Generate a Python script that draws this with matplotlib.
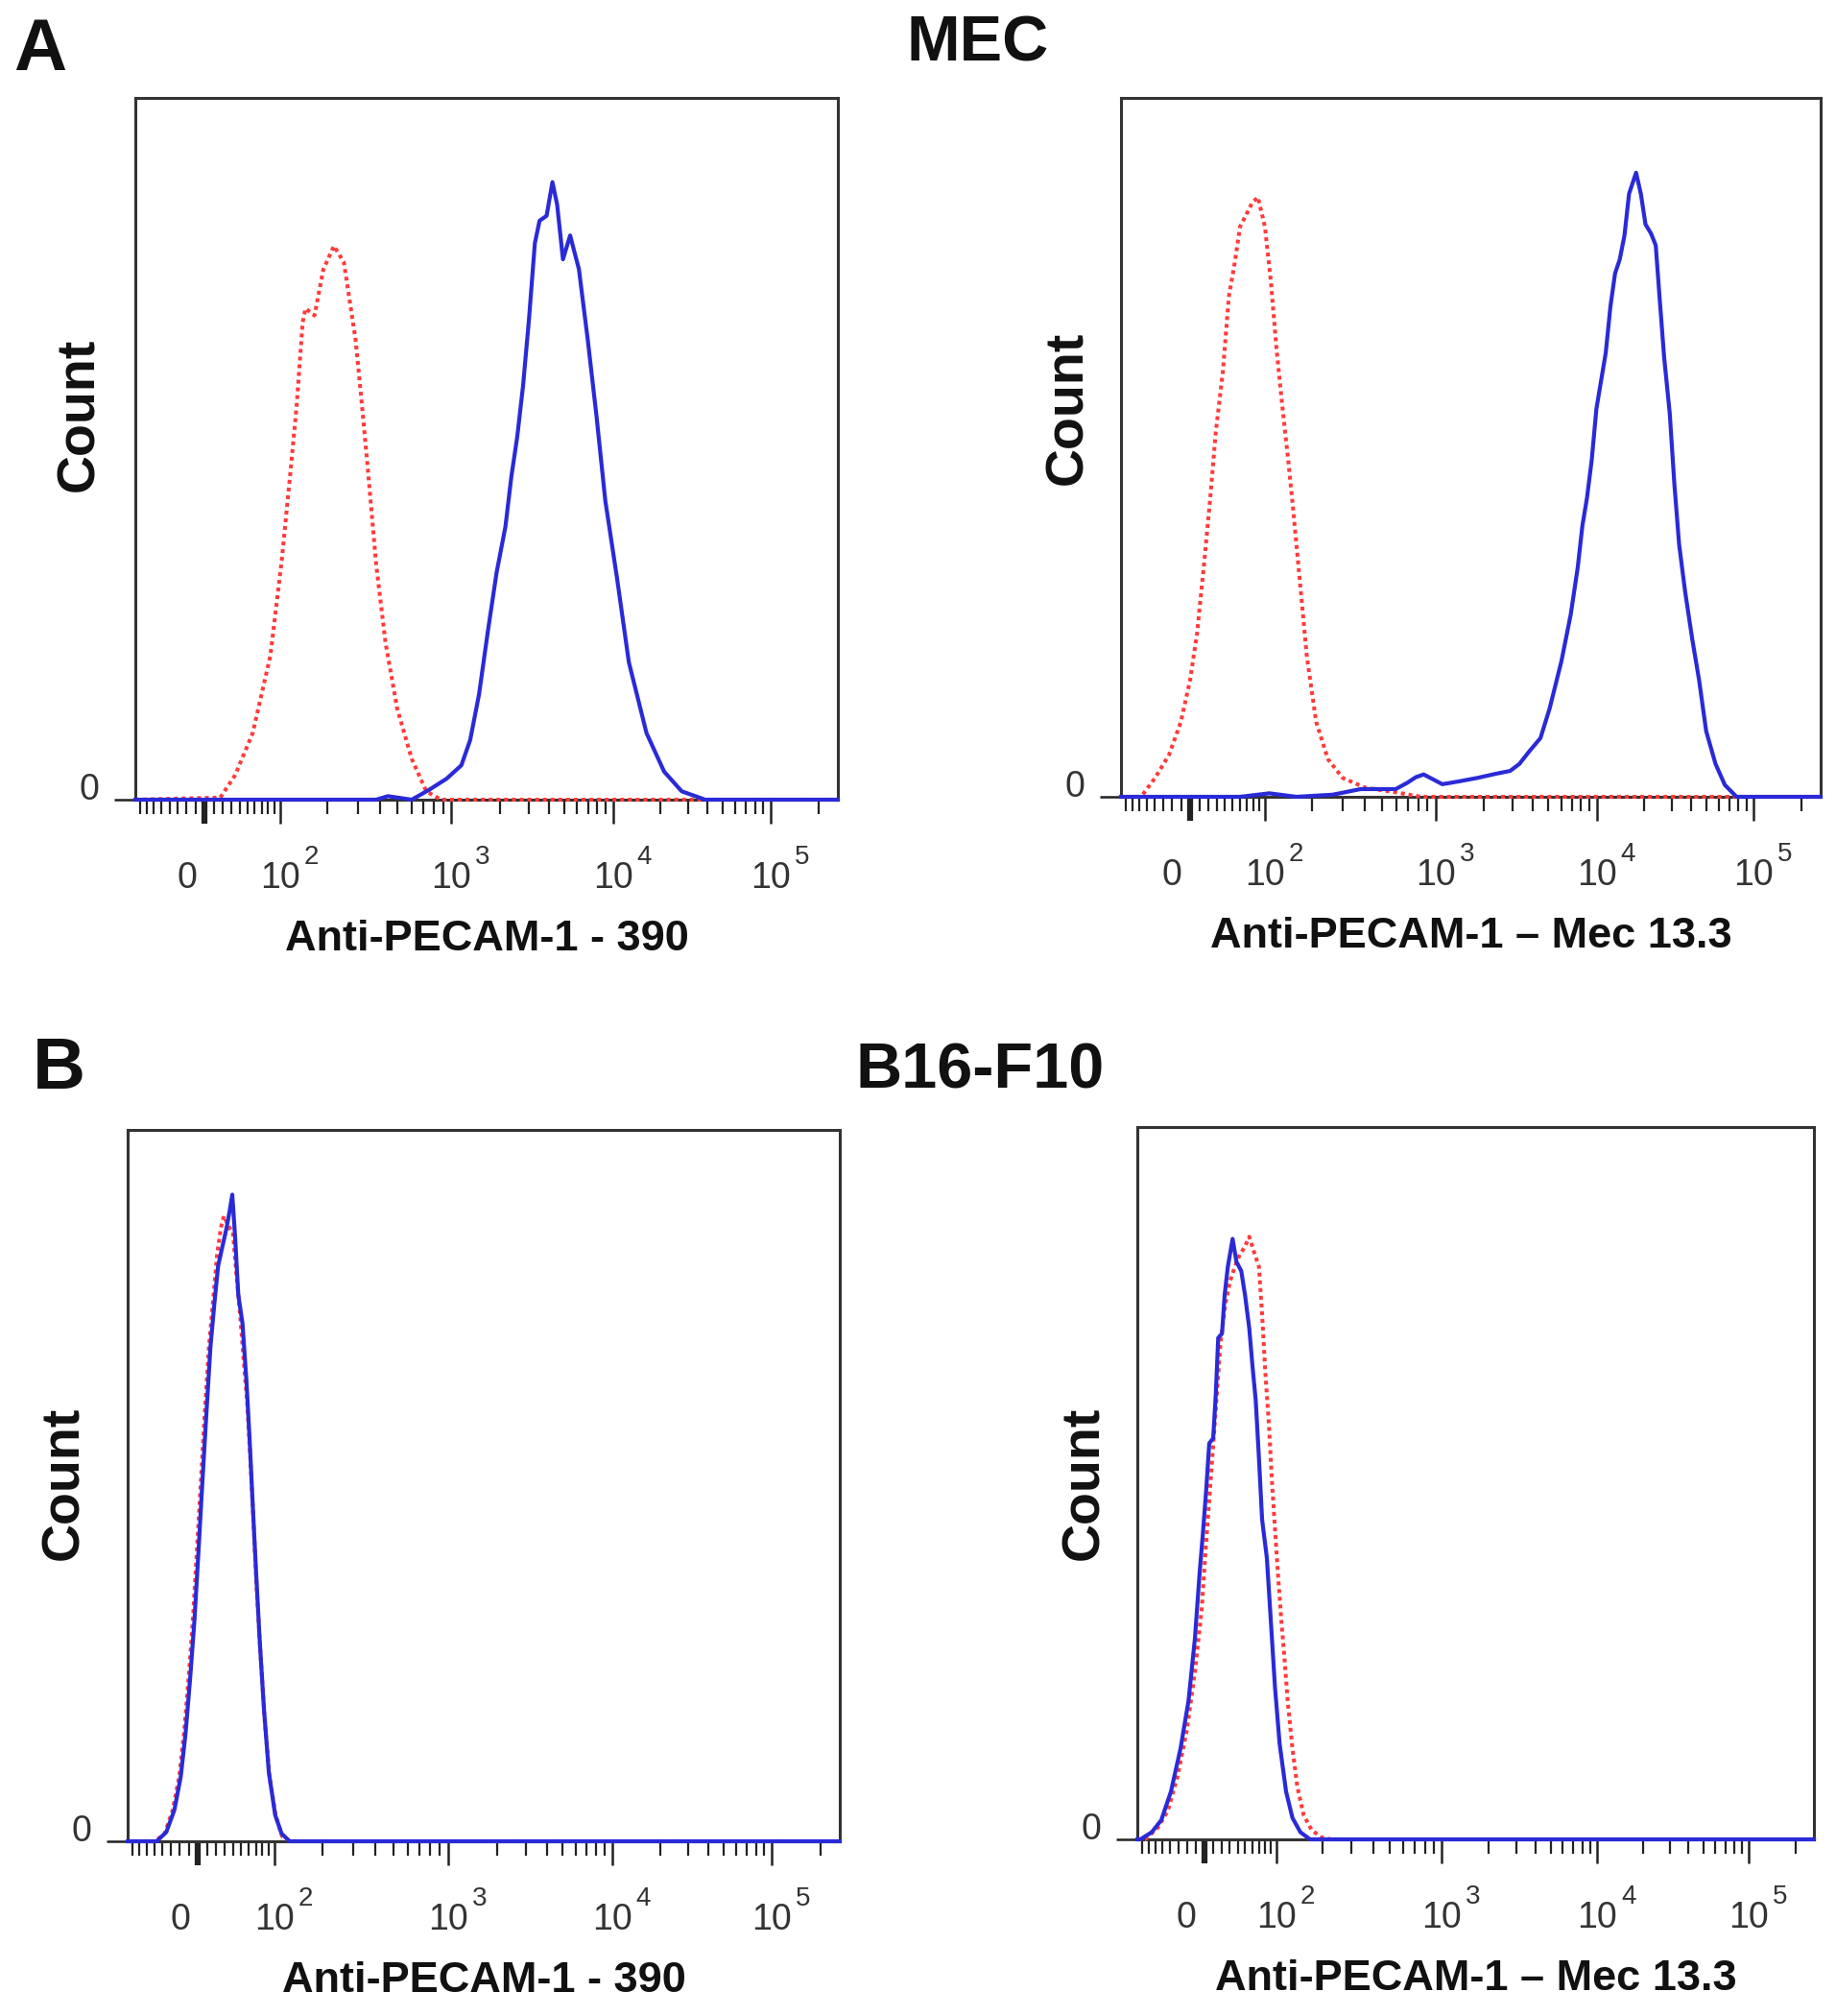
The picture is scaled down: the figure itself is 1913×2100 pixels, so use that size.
import matplotlib
matplotlib.use("Agg")
import matplotlib.pyplot as plt
import matplotlib.transforms as mtransforms
from matplotlib.ticker import FixedLocator, NullFormatter
import numpy as np

plt.rcParams['font.family'] = ['Liberation Sans', 'DejaVu Sans']

FIG_W, FIG_H = 1913, 2100

# flow cytometry display axis (biexponential-like): asinh core with decade knots
W_LIN = 77.6
KNOT_V = np.array([-88.0, 0.0, 1e2, 1e3, 1e4, 1e5, 262144.0])
KNOT_F = np.array([0.0, 0.099, 0.206, 0.450, 0.680, 0.904, 1.0])
KNOT_S = np.arcsinh(KNOT_V / W_LIN)


def fwd(x):
    return np.interp(np.arcsinh(np.asarray(x, dtype=float) / W_LIN), KNOT_S, KNOT_F)


def inv(f):
    return W_LIN * np.sinh(np.interp(np.asarray(f, dtype=float), KNOT_F, KNOT_S))


MAJOR = [0, 1e2, 1e3, 1e4, 1e5]
MAJOR_LABELS = ['0', '10', '10', '10', '10']
EXPONENTS = ['2', '3', '4', '5']
MINOR = ([-80, -70, -60, -50, -40, -30, -20, -10]
         + [10, 20, 30, 40, 50, 60, 70, 80, 90]
         + [200, 300, 400, 500, 600, 700, 800, 900]
         + [2000, 3000, 4000, 5000, 6000, 7000, 8000, 9000]
         + [20000, 30000, 40000, 50000, 60000, 70000, 80000, 90000]
         + [200000])
X_MIN, X_MAX = -88, 262144

# ---- MEC, anti-PECAM-1 390 ----
tl_red_x = [-88, 17.2, 34.5, 57.1, 83.4, 103, 118, 129, 141, 147, 167, 189, 218, 249, 291,
            314, 339, 381, 430, 499, 602, 725, 874, 262144]
tl_red_y = [0, 0.3, 3.5, 9.5, 20.5, 34.3, 47, 56, 68, 70, 69, 75.6, 78.9, 76.6, 65.5,
            57, 48, 33.4, 22.3, 13, 5.8, 1.2, 0, 0]
tl_blue_x = [-88, 380, 443, 602, 751, 941, 1152, 1306, 1482, 1681, 1905, 2159, 2348, 2554,
             2776, 3016, 3284, 3511, 3881, 4218, 4510, 4900, 5427, 6150, 6978, 7915, 8957,
             10610, 12600, 16310, 21110, 27290, 38500, 262144]
tl_blue_y = [0, 0, 0.5, 0, 1.4, 3, 4.9, 8.5, 15, 24, 32.4, 38.9, 46, 51.7,
             59, 68.3, 79.3, 82.5, 83.2, 88, 84.8, 77, 80.4, 75.6, 65.5, 54.5, 42.6,
             31.5, 19.6, 9.5, 4, 1.2, 0, 0]

# ---- MEC, anti-PECAM-1 Mec 13.3 ----
tr_red_x = [-88, -58.0, -39.9, -23.5, -10.3, -0.2, 7.6, 15.5, 22.5, 29.0, 37.6, 45.1, 52.6,
            60.2, 69.1, 78.2, 87.4, 99.6, 109.7, 119.4, 130, 142.2, 152.2, 168.1, 185.3,
            210.5, 246.4, 300, 403, 579, 830, 262144]
tr_red_y = [0, 0, 2.7, 6, 10.7, 16.7, 23.4, 33.4, 42.8, 52.2, 60.9, 71.6, 76.3,
            81.6, 83.3, 85, 85.8, 81.6, 73.6, 64.2, 56.2, 48.2, 41.5, 30.8, 20,
            10.7, 5.4, 2.7, 1.3, 0.7, 0, 0]
tr_blue_x = [-88, 60, 107, 160, 262, 316, 379, 484, 597, 693, 773, 855, 965, 1098, 1387,
             1812, 2369, 2895, 3306, 3778, 4470, 5106, 6033, 6894, 7617, 8145, 8700, 9306,
             9950, 10650, 11410, 12230, 13090, 14020, 15020, 16080, 17820, 19110, 20470,
             22200, 23790, 25140, 26910, 29240, 31270, 33540, 36610, 40580, 44980, 49900,
             57270, 65650, 77960, 262144]
tr_blue_y = [0, 0, 0.5, 0, 0.3, 0.7, 1.1, 1.1, 1.1, 2, 2.8, 3.2, 2.5, 1.8, 2.2,
             2.7, 3.3, 3.7, 4.7, 6.4, 8.4, 12.7, 19.4, 26.1, 32.8, 38.8, 42.8, 48.2,
             55.5, 59.5, 63.5, 70.2, 74.9, 76.9, 80.3, 86.3, 89.3, 86.3, 81.9,
             80.6, 78.9, 71.6, 62.9, 54.8, 44.8, 36.1, 29.4, 22.7, 16.7, 9.4,
             4.7, 1.7, 0, 0]

# ---- B16-F10, anti-PECAM-1 390 ----
bl_red_x = [-88, -48.8, -37.0, -27.8, -20.5, -15.3, -10.1, -5.6, -1.5, 2.7, 7.2, 11.8, 16.1,
            20.7, 25.1, 28.7, 32.6, 35.5, 39.5, 43.4, 48.3, 53.3, 57.6, 62.1, 66.5, 71.2,
            77.0, 83.6, 91.6, 102.2, 112.9, 127.2, 262144]
bl_red_y = [0, 0, 1.1, 4.4, 9.1, 15.1, 23.2, 31.2, 40.6, 50, 60.1, 69.5, 75.5,
            82.2, 86.2, 87.9, 86.9, 86.2, 85.6, 80.2, 74.2, 67.4, 62, 54, 45.3, 35.9,
            26.5, 17.1, 9.1, 3.6, 0.7, 0, 0]
bl_blue_x = [-88, -46.8, -35.2, -25.9, -18.8, -13.6, -8.4, -3.9, 0.3, 4.4, 9.0, 13.5, 17.8,
             22.1, 27.0, 31.8, 35.5, 38.7, 42.2, 46.2, 51.6, 56.8, 61.1, 65.6, 70.4, 76.1,
             82.6, 90.5, 101.3, 111.8, 126.1, 262144]
bl_blue_y = [0, 0, 1.3, 4.4, 9.1, 15.1, 23.2, 31.2, 40.6, 50, 60.1, 69.5, 75.5,
             80.9, 83.6, 86.2, 88.6, 90.9, 84.9, 76.8, 72.8, 64.8, 56.7, 47.3, 37.9, 27.9,
             18.5, 9.7, 3.7, 1.1, 0, 0]

# ---- B16-F10, anti-PECAM-1 Mec 13.3 ----
br_red_x = [-88, -75.1, -56.0, -43.2, -31.2, -19.8, -10.6, -3.0, 2.1, 7.6, 13.2, 18.8, 24.5,
            30.4, 36.4, 42.6, 49.0, 55.6, 62.6, 69.8, 74.8, 79.9, 86.0, 90.9, 96.8, 102.4,
            107.9, 113.5, 119.5, 128.8, 138.6, 152.4, 171.5, 196.8, 225.2, 262144]
br_red_y = [0, 0, 1.7, 4, 8.7, 15.4, 23.5, 32.2, 41.6, 50.9, 60.3, 69.7, 75.1,
            78.4, 80.4, 82.1, 83.1, 84.6, 82.4, 80.4, 73.7, 65.7, 58.3, 50.9, 43.6, 36.9,
            30.8, 25.5, 19.4, 12.7, 7.4, 3.4, 1.3, 0.3, 0, 0]
br_blue_x = [-88, -82.8, -65.2, -51.7, -39.1, -27.4, -18.0, -10.6, -5.2, -1.6, 2.1, 5.7, 10.2,
             13.2, 16.1, 20.6, 23.7, 27.6, 33.5, 38.3, 44.6, 49.7, 55.6, 60.2, 64.9, 69.8,
             74.8, 82.6, 89.3, 96.8, 105, 116.5, 128.8, 145.3, 167.4, 262144]
br_blue_y = [0, 0, 1, 2.7, 6.7, 12.7, 19.4, 28.2, 37.5, 42.9, 48.9, 55.6, 56.3,
             62.3, 70.4, 71, 76.4, 80.4, 84.3, 81.1, 79.8, 76.4, 71.7, 66.4, 61.7, 53.6,
             44.9, 39.5, 30.8, 21.4, 13.4, 6.7, 3, 1, 0, 0]

XLABEL_390 = 'Anti-PECAM-1 - 390'
XLABEL_MEC = 'Anti-PECAM-1 \u2013 Mec 13.3'

RED = '#ff3a3a'
BLUE = '#2a2ad8'
DARK = '#333333'


def px_rect(left, top, right, bottom):
    return [left / FIG_W, 1 - bottom / FIG_H, (right - left) / FIG_W, (bottom - top) / FIG_H]


def draw_panel(ax, red_x, red_y, blue_x, blue_y, xlabel):
    ax.set_xscale('function', functions=(fwd, inv))
    ax.plot(red_x, red_y, color=RED, lw=2.9, ls=(0, (1, 1)), clip_on=False, zorder=3)
    ax.plot(blue_x, blue_y, color=BLUE, lw=3.0, clip_on=False, zorder=4,
            solid_joinstyle='round')
    ax.set_xlim(X_MIN, X_MAX)
    ax.set_ylim(0, 100)

    for sp in ax.spines.values():
        sp.set_color(DARK)
        sp.set_linewidth(2.2)

    ax.xaxis.set_major_locator(FixedLocator(MAJOR))
    ax.xaxis.set_minor_locator(FixedLocator(MINOR))
    ax.xaxis.set_minor_formatter(NullFormatter())
    ax.set_xticklabels(MAJOR_LABELS)
    ax.set_yticks([0])
    ax.set_yticklabels(['0'])
    ax.tick_params(axis='x', which='major', length=18, width=1.8, pad=28,
                   labelsize=27, color='#222222', labelcolor=DARK)
    ax.tick_params(axis='x', which='minor', length=10.5, width=1.6, color='#222222')
    ax.tick_params(axis='y', which='major', length=16, width=1.8, pad=11,
                   labelsize=27, color='#222222', labelcolor=DARK)
    for lbl in ax.get_yticklabels():
        lbl.set_va('baseline')

    # the zero tick: heavy mark, label drawn a little to its left
    zt = ax.xaxis.get_major_ticks()[0]
    zt.tick1line.set_markeredgewidth(4.5)
    zt.label1.set_transform(zt.label1.get_transform()
                            + mtransforms.ScaledTranslation(-19 / 100, 0, fig.dpi_scale_trans))

    sup_tr = mtransforms.offset_copy(ax.get_xaxis_transform(), fig=fig,
                                     x=32.5, y=-67, units='dots')
    for v, e in zip(MAJOR[1:], EXPONENTS):
        ax.text(v, 0, e, transform=sup_tr, ha='center', va='baseline',
                fontsize=20, color=DARK)

    lab_tr = mtransforms.offset_copy(ax.transAxes, fig=fig, x=0, y=-157, units='dots')
    ax.text(0.5, 0, xlabel, transform=lab_tr, ha='center', va='baseline',
            fontsize=32.5, fontweight='bold', color='#111111')


fig = plt.figure(figsize=(FIG_W / 100, FIG_H / 100), dpi=100)

ax_tl = fig.add_axes(px_rect(141, 102, 873, 833))
ax_tr = fig.add_axes(px_rect(1168, 102, 1897, 830))
ax_bl = fig.add_axes(px_rect(133, 1177, 875, 1918))
ax_br = fig.add_axes(px_rect(1185, 1174, 1890, 1916))

draw_panel(ax_tl, tl_red_x, tl_red_y, tl_blue_x, tl_blue_y, XLABEL_390)
draw_panel(ax_tr, tr_red_x, tr_red_y, tr_blue_x, tr_blue_y, XLABEL_MEC)
draw_panel(ax_bl, bl_red_x, bl_red_y, bl_blue_x, bl_blue_y, XLABEL_390)
draw_panel(ax_br, br_red_x, br_red_y, br_blue_x, br_blue_y, XLABEL_MEC)


def ftext(x, y, s, **kw):
    fig.text(x / FIG_W, 1 - y / FIG_H, s, **kw)


# "Count" labels (centre in px)
for cx, cy in [(78, 432), (1108, 425), (62, 1545), (1125, 1545)]:
    ftext(cx + 5.5, cy, 'Count', rotation=90, ha='center', va='center',
          fontsize=40, fontweight='bold', color='#111111')

ftext(42, 73, 'A', ha='center', va='baseline', fontsize=55, fontweight='bold', color='#111111')
ftext(61, 1134, 'B', ha='center', va='baseline', fontsize=55, fontweight='bold', color='#111111')
ftext(1019, 63, 'MEC', ha='center', va='baseline', fontsize=48, fontweight='bold', color='#111111')
ftext(1021, 1134, 'B16-F10', ha='center', va='baseline', fontsize=48, fontweight='bold',
      color='#111111')

fig.savefig('out.png', dpi=100, facecolor='white')
